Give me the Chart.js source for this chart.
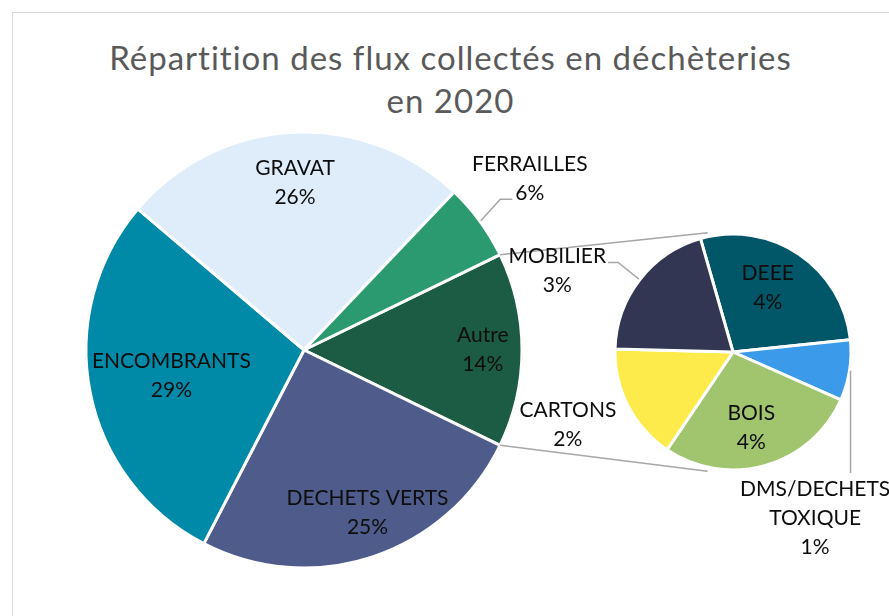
<!DOCTYPE html>
<html lang="fr">
<head>
<meta charset="utf-8">
<script src="https://cdn.jsdelivr.net/npm/chart.js@4.4.0/dist/chart.umd.min.js"></script>
<style>
  html, body { margin: 0; padding: 0; background: #fff; }
  #wrap { position: relative; width: 889px; height: 616px; overflow: hidden; }
  #frame { position: absolute; left: 12px; top: 12px; width: 900px; height: 700px; border: 1px solid #d9d9d9; box-sizing: border-box; }
  #title { position: absolute; left: 12px; width: 877px; top: 36px; text-align: center; font: 33px Lato, sans-serif; letter-spacing: 1px; line-height: 43px; color: #595959; }
  canvas { position: absolute; left: 0; top: 0; }
</style>
</head>
<body>
<div id="wrap">
  <div id="frame"></div>
  <div id="title">Répartition des flux collectés en déchèteries<br>en 2020</div>
  <canvas id="mainPie" width="889" height="616"></canvas>
  <canvas id="subPie" width="889" height="616"></canvas>
</div>
<script>
// main pie, clockwise starting with the "Autre" slice (split out in the small pie)
const mainLabels = ['Autre', 'DECHETS VERTS', 'ENCOMBRANTS', 'GRAVAT', 'FERRAILLES'];
const mainValues = [14.4, 25.4, 28.6, 25.9, 5.7];
const mainColors = ['#1c5c44', '#4f5c8b', '#0189a8', '#dfedfa', '#2c9a70'];

// detail of "Autre"
const subLabels = ['DEEE', ['DMS/DECHETS', 'TOXIQUE'], 'BOIS', 'CARTONS', 'MOBILIER'];
const subValues = [4.0, 1.2, 4.0, 2.3, 2.9];
const subColors = ['#015668', '#3b9ae9', '#a1c46e', '#fdeb4c', '#323652'];

const LABEL_FONT = '21px Lato, sans-serif';
const LINE_H = 29;
const LEADER = '#a6a6a6';
const total = mainValues.reduce((a, b) => a + b, 0);

// where each data label sits: angle shift from the slice middle (deg) and radius factor
const mainPlacement = [
  { da: 0, k: 0.82 },
  { da: -3, k: 0.80 },
  { da: 0, k: 0.62 },
  { da: 0, k: 0.77 },
  { da: -1, k: 1.30, leader: 'left' },
];
const subPlacement = [
  { da: -5.6, k: 0.62 },
  { da: 54.7, k: 1.57, leader: 'top' },
  { da: 2.4, k: 0.66 },
  { da: 3.4, k: 1.53 },
  { da: -13, k: 1.64, leader: 'right' },
];

function labelPlugin(placement) {
  return {
    id: 'sliceLabels',
    afterDatasetsDraw(chart) {
      const ctx = chart.ctx;
      const values = chart.data.datasets[0].data;
      ctx.save();
      ctx.font = LABEL_FONT;
      ctx.textAlign = 'center';
      ctx.textBaseline = 'middle';
      chart.getDatasetMeta(0).data.forEach((arc, i) => {
        const { x, y, startAngle, endAngle, outerRadius } =
          arc.getProps(['x', 'y', 'startAngle', 'endAngle', 'outerRadius'], true);
        const p = placement[i];
        const mid = (startAngle + endAngle) / 2;
        const a = mid + p.da * Math.PI / 180;
        const cx = x + Math.cos(a) * outerRadius * p.k;
        const cy = y + Math.sin(a) * outerRadius * p.k;
        const lines = [].concat(chart.data.labels[i], Math.round(values[i] / total * 100) + '%');
        const top = cy - (lines.length - 1) * LINE_H / 2;
        ctx.fillStyle = '#0d0d0d';
        lines.forEach((t, j) => ctx.fillText(t, cx, top + j * LINE_H));

        if (p.leader) {
          const ex = x + Math.cos(mid) * (outerRadius + 1);
          const ey = y + Math.sin(mid) * (outerRadius + 1);
          const pts = [[ex, ey]];
          if (p.leader === 'left') {
            const w = ctx.measureText(lines[1]).width;
            const end = [cx - w / 2 - 3, top + LINE_H + 6];
            pts.push([end[0] - 12, end[1]], end);
          } else if (p.leader === 'right') {
            const w = ctx.measureText(lines[0]).width;
            const end = [cx + w / 2 + 2, top + 6];
            pts.push([end[0] + 10, end[1]], end);
          } else {
            pts.push([ex, top - 16]);
          }
          ctx.strokeStyle = LEADER;
          ctx.lineWidth = 1.5;
          ctx.beginPath();
          pts.forEach(([px, py], j) => j ? ctx.lineTo(px, py) : ctx.moveTo(px, py));
          ctx.stroke();
        }
      });
      ctx.restore();
    },
  };
}

const commonOptions = {
  responsive: false,
  animation: false,
  events: [],
  plugins: { legend: { display: false }, tooltip: { enabled: false }, title: { display: false } },
};

const mainChart = new Chart(document.getElementById('mainPie'), {
  type: 'pie',
  data: {
    labels: mainLabels,
    datasets: [{
      data: mainValues,
      backgroundColor: mainColors,
      borderColor: '#ffffff',
      borderWidth: 3,
    }],
  },
  options: {
    ...commonOptions,
    // keep "Autre" centred on the right side
    rotation: 90 - (mainValues[0] / total) * 180,
    radius: 218,
    layout: { padding: { left: 0, right: 281, top: 84, bottom: 0 } },
  },
  plugins: [labelPlugin(mainPlacement)],
});

// lines joining "Autre" to the detail pie
const connectorPlugin = {
  id: 'connectors',
  beforeDatasetsDraw(chart) {
    const src = mainChart.getDatasetMeta(0).data[0]
      .getProps(['x', 'y', 'startAngle', 'endAngle', 'outerRadius'], true);
    const dst = chart.getDatasetMeta(0).data[0].getProps(['x', 'y', 'outerRadius'], true);
    const ctx = chart.ctx;
    const hit = 102 * Math.PI / 180;
    ctx.save();
    ctx.strokeStyle = LEADER;
    ctx.lineWidth = 1.5;
    [[src.startAngle, -hit], [src.endAngle, hit]].forEach(([a, b]) => {
      ctx.beginPath();
      ctx.moveTo(src.x + Math.cos(a) * src.outerRadius, src.y + Math.sin(a) * src.outerRadius);
      ctx.lineTo(dst.x + Math.cos(b) * (dst.outerRadius + 4), dst.y + Math.sin(b) * (dst.outerRadius + 4));
      ctx.stroke();
    });
    ctx.restore();
  },
};

new Chart(document.getElementById('subPie'), {
  type: 'pie',
  data: {
    labels: subLabels,
    datasets: [{
      data: subValues,
      backgroundColor: subColors,
      borderColor: '#ffffff',
      borderWidth: 3,
    }],
  },
  options: {
    ...commonOptions,
    rotation: -16,
    radius: 118,
    layout: { padding: { left: 577, right: 0, top: 88, bottom: 0 } },
  },
  plugins: [connectorPlugin, labelPlugin(subPlacement)],
});
</script>
</body>
</html>
